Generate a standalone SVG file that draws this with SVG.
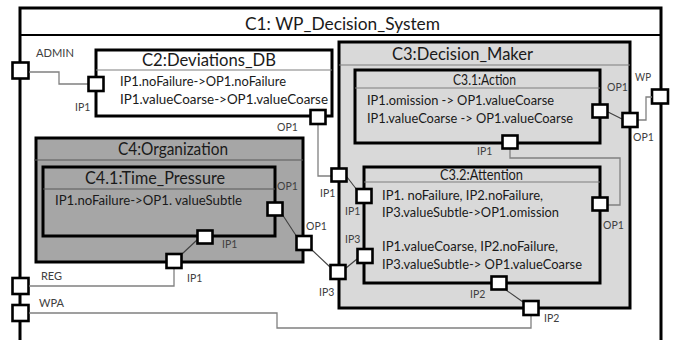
<svg xmlns="http://www.w3.org/2000/svg" width="678" height="340" viewBox="0 0 678 340">
<style>
.box{stroke:#000;stroke-width:3}
.hdr{stroke:#7f7f7f;stroke-width:1.2}
.port{fill:#fff;stroke:#000;stroke-width:2.6}
.t{font-family:Lato,"Liberation Sans",Arial,sans-serif;fill:#1a1a1a}
.title{font-size:18px}
.sub{font-size:14.5px}
.body{font-size:13.5px}
.lbl{font-family:Lato,"Liberation Sans",Arial,sans-serif;font-size:10.5px;fill:#404040}
.ext{font-family:Lato,"Liberation Sans",Arial,sans-serif;font-size:11px;fill:#404040}
.wire{fill:none;stroke:#808080;stroke-width:1.3}
.dwire{fill:none;stroke:#404040;stroke-width:1.1}
</style>
<rect width="678" height="340" fill="#fff"/>
<g id="C1">
  <path d="M20,340 V8 H661 V340" fill="#fff" class="box" stroke-width="2.5"/>
  <line x1="20" y1="35" x2="661" y2="35" stroke="#000" stroke-width="2"/>
  <text class="t title" x="245" y="30" textLength="195" lengthAdjust="spacingAndGlyphs">C1: WP_Decision_System</text>
  <rect class="port" x="12.5" y="62.5" width="16" height="16"/>
  <text class="ext" x="36" y="57" textLength="38" lengthAdjust="spacingAndGlyphs">ADMIN</text>
  <rect class="port" x="12.5" y="278" width="16" height="16"/>
  <text class="ext" x="41" y="280" textLength="21" lengthAdjust="spacingAndGlyphs">REG</text>
  <rect class="port" x="12.5" y="305" width="16" height="16"/>
  <text class="ext" x="39" y="307" textLength="25" lengthAdjust="spacingAndGlyphs">WPA</text>
  <rect class="port" x="652" y="89.5" width="16" height="14"/>
  <text class="ext" x="635" y="81" textLength="16" lengthAdjust="spacingAndGlyphs">WP</text>
</g>
<g id="C2">
  <rect x="96" y="50" width="236" height="66" fill="#fff" class="box"/>
  <line class="hdr" x1="96" y1="70" x2="332" y2="70"/>
  <text class="t title" x="142" y="66" textLength="134" lengthAdjust="spacingAndGlyphs">C2:Deviations_DB</text>
  <text class="t body" x="120" y="86" textLength="166" lengthAdjust="spacingAndGlyphs">IP1.noFailure-&gt;OP1.noFailure</text>
  <text class="t body" x="120" y="104" textLength="208" lengthAdjust="spacingAndGlyphs">IP1.valueCoarse-&gt;OP1.valueCoarse</text>
</g>
<g id="C3">
  <rect x="339" y="42" width="291" height="266" fill="#d9d9d9" class="box"/>
  <line class="hdr" x1="339" y1="65" x2="630" y2="65"/>
  <text class="t title" x="392" y="60" textLength="141" lengthAdjust="spacingAndGlyphs">C3:Decision_Maker</text>
</g>
<g id="C3_1">
  <rect x="355" y="70" width="245" height="73" fill="#d9d9d9" class="box"/>
  <line class="hdr" x1="355" y1="88" x2="600" y2="88"/>
  <text class="t sub" x="453" y="85" textLength="63" lengthAdjust="spacingAndGlyphs">C3.1:Action</text>
  <text class="t body" x="367" y="105" textLength="187" lengthAdjust="spacingAndGlyphs">IP1.omission -&gt; OP1.valueCoarse</text>
  <text class="t body" x="367" y="123" textLength="206" lengthAdjust="spacingAndGlyphs">IP1.valueCoarse -&gt; OP1.valueCoarse</text>
</g>
<g id="C3_2">
  <rect x="364" y="167" width="236" height="116" fill="#d9d9d9" class="box"/>
  <line class="hdr" x1="364" y1="182" x2="600" y2="182"/>
  <text class="t sub" x="440" y="180" textLength="83" lengthAdjust="spacingAndGlyphs">C3.2:Attention</text>
  <text class="t body" x="382" y="200" textLength="161" lengthAdjust="spacingAndGlyphs">IP1. noFailure, IP2.noFailure,</text>
  <text class="t body" x="382" y="217" textLength="177" lengthAdjust="spacingAndGlyphs">IP3.valueSubtle-&gt;OP1.omission</text>
  <text class="t body" x="382" y="251" textLength="176" lengthAdjust="spacingAndGlyphs">IP1.valueCoarse, IP2.noFailure,</text>
  <text class="t body" x="382" y="269" textLength="200" lengthAdjust="spacingAndGlyphs">IP3.valueSubtle-&gt; OP1.valueCoarse</text>
</g>
<g id="C4">
  <rect x="36" y="138" width="267" height="124" fill="#a6a6a6" class="box"/>
  <line x1="34" y1="160" x2="303" y2="160" stroke="#595959" stroke-width="1.2"/>
  <text class="t title" x="118" y="155" textLength="110" lengthAdjust="spacingAndGlyphs">C4:Organization</text>
</g>
<g id="C4_1">
  <rect x="43" y="167" width="232" height="69" fill="#a6a6a6" class="box"/>
  <line x1="43" y1="189" x2="275" y2="189" stroke="#595959" stroke-width="1.2"/>
  <text class="t title" x="85" y="184" textLength="140" lengthAdjust="spacingAndGlyphs">C4.1:Time_Pressure</text>
  <text class="t body" x="55" y="205" textLength="187" lengthAdjust="spacingAndGlyphs">IP1.noFailure-&gt;OP1. valueSubtle</text>
</g>
<g id="connectors">
  <path class="wire" d="M29,72 H59 V84 H88"/>
  <path class="wire" d="M318,124 V176 H331"/>
  <path class="dwire" d="M347,177 L357,190"/>
  <path class="dwire" d="M608,112 L622,119"/>
  <path class="wire" d="M638,120 H646 V97 H652"/>
  <path class="wire" d="M510,149 V158 H620 V205 H608"/>
  <path class="dwire" d="M282,214 L297,237"/>
  <path class="dwire" d="M312,250 L330,267"/>
  <path class="dwire" d="M346,268 L357,259"/>
  <path class="dwire" d="M197,240 L182,254"/>
  <path class="wire" d="M174,268 V286 H29"/>
  <path class="wire" d="M29,313 H277 V328 H531 V316"/>
  <path class="dwire" d="M506,290 L523,302"/>
</g>
<g id="ports">
  <rect class="port" x="88.5" y="77" width="15" height="14"/>
  <text class="lbl" x="75" y="111">IP1</text>
  <rect class="port" x="310.5" y="110" width="15" height="14"/>
  <text class="lbl" x="277" y="131">OP1</text>
  <rect class="port" x="331.5" y="168.5" width="15" height="13"/>
  <text class="lbl" x="320" y="197">IP1</text>
  <rect class="port" x="356.5" y="189" width="15" height="14"/>
  <text class="lbl" x="345" y="215">IP1</text>
  <rect class="port" x="592.5" y="104.5" width="15" height="13"/>
  <text class="lbl" x="607" y="91">OP1</text>
  <rect class="port" x="622.5" y="113" width="15" height="14"/>
  <text class="lbl" x="633" y="141">OP1</text>
  <rect class="port" x="502.5" y="135.5" width="15" height="13"/>
  <text class="lbl" x="477" y="155">IP1</text>
  <rect class="port" x="592.5" y="197.5" width="15" height="13"/>
  <text class="lbl" x="603" y="229">OP1</text>
  <rect class="port" x="357.5" y="249" width="15" height="14"/>
  <text class="lbl" x="345" y="243">IP3</text>
  <rect class="port" x="330.5" y="265" width="15" height="14"/>
  <text class="lbl" x="319" y="296">IP3</text>
  <rect class="port" x="491.5" y="276.5" width="15" height="13"/>
  <text class="lbl" x="470" y="298">IP2</text>
  <rect class="port" x="523.5" y="301" width="15" height="14"/>
  <text class="lbl" x="544" y="322">IP2</text>
  <rect class="port" x="267.5" y="202.5" width="15" height="13"/>
  <text class="lbl" x="277" y="190">OP1</text>
  <rect class="port" x="296.5" y="236" width="15" height="14"/>
  <text class="lbl" x="306" y="230">OP1</text>
  <rect class="port" x="197.5" y="230.5" width="15" height="13"/>
  <text class="lbl" x="222" y="248">IP1</text>
  <rect class="port" x="166.5" y="254" width="15" height="14"/>
  <text class="lbl" x="187" y="282">IP1</text>
</g>
</svg>
